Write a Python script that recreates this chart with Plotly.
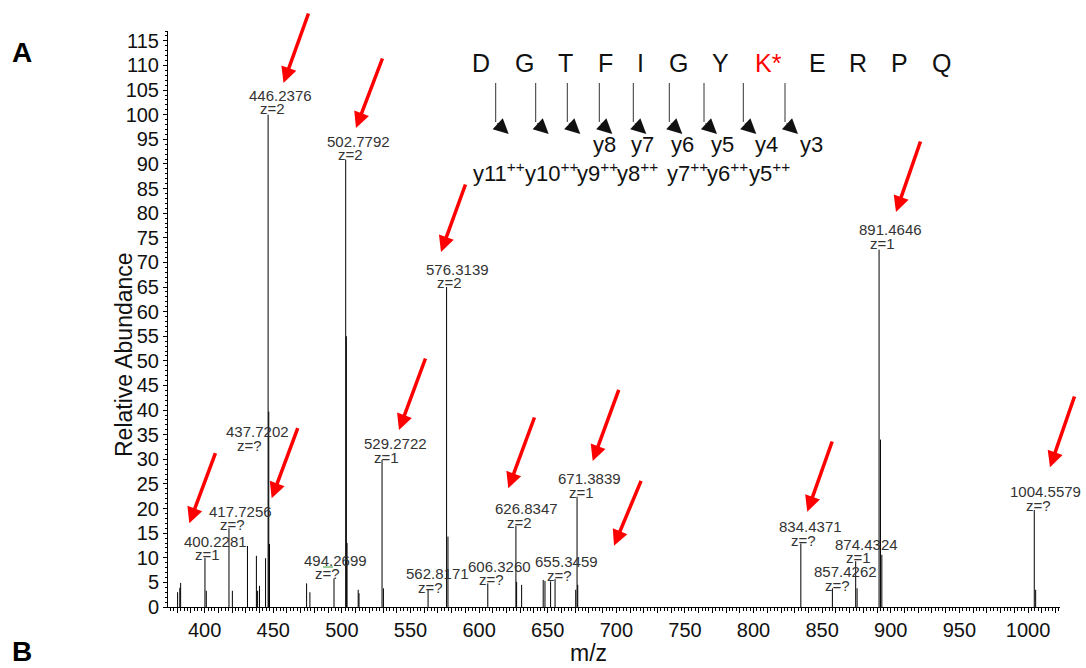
import plotly.graph_objects as go

# ---------------- data ----------------
peak_mz = [380.3, 381.9, 382.5, 400.23, 401.2, 417.73, 420.2, 431.2, 437.72, 438.6,
           440.0, 444.4, 446.24, 446.74, 447.24, 474.3, 476.7, 494.27, 502.78, 503.28,
           503.78, 511.9, 512.5, 529.27, 530.27, 562.82, 576.31, 577.31, 606.33, 626.83,
           627.33, 631.0, 646.7, 648.0, 652.1, 655.35, 670.4, 671.38, 671.88, 834.44,
           857.43, 874.43, 875.43, 891.46, 892.47, 893.47, 1004.56, 1005.56]
peak_int = [3.0, 3.9, 4.9, 10.0, 3.3, 16.0, 3.3, 12.4, 10.4, 3.3,
            4.3, 9.9, 100, 39.7, 12.8, 4.8, 3.0, 5.8, 90.9, 55,
            13, 3.5, 2.8, 29.9, 3.8, 3.5, 65, 14.3, 4.8, 16.5,
            5.1, 4.5, 5.5, 5.3, 5.2, 5.7, 3.5, 22.4, 4.5, 12.9,
            3.8, 9.3, 3.8, 72.6, 34, 10.6, 19.7, 3.5]

label_text = ["400.2281", "417.7256", "437.7202", "446.2376", "494.2699", "502.7792",
              "529.2722", "562.8171", "576.3139", "606.3260", "626.8347", "655.3459",
              "671.3839", "834.4371", "857.4262", "874.4324", "891.4646", "1004.5579"]
label_charge = ["z=1", "z=?", "z=?", "z=2", "z=?", "z=2",
                "z=1", "z=?", "z=2", "z=?", "z=2", "z=?",
                "z=1", "z=?", "z=?", "z=1", "z=1", "z=?"]
# layout of labels (height of label in abundance units, pixel shifts)
label_y = [13.4, 19.5, 35.6, 104.0, 9.5, 94.6, 33.2, 6.8, 68.6, 8.3, 20.0, 9.2,
           26.1, 16.3, 7.2, 12.7, 76.6, 23.4]
label_dx = [11, 11.5, 1, 12, 1, 12.5, 13, 9, 11, 12, 11, 11, 12, 10, 13, 11, 11, 11]
charge_dx = [2.5, 3.7, -6.7, 4, -7, 5, 4.5, 2, 3, 4, 4, 4, 4, 3, 5, 3, 3, 4]

sequence = ["D", "G", "T", "F", "I", "G", "Y", "K*", "E", "R", "P", "Q"]
ions_y = ["y8", "y7", "y6", "y5", "y4", "y3"]
ions_y2 = ["y11", "y10", "y9", "y8", "y7", "y6", "y5"]

x_ticks = list(range(380, 1021, 10))
x_ticktext = [str(v) if v % 50 == 0 else "" for v in x_ticks]

# ---------------- geometry helpers ----------------
W, H = 1086, 668
L, R, T, B = 168, 26, 31, 61
PW, PH = W - L - R, H - T - B


def px(x):
    return (x - L) / PW


def py(y):
    return (H - B - y) / PH


FONT = "Liberation Sans, Arial, sans-serif"

# ---------------- sticks ----------------
xs, ys = [], []
for m, h in zip(peak_mz, peak_int):
    xs += [m, m, None]
    ys += [0, h, None]

fig = go.Figure()
fig.add_trace(go.Scatter(x=xs, y=ys, mode="lines",
                         line=dict(color="black", width=1), hoverinfo="skip",
                         showlegend=False))

ann = []
# peak labels
for t, z, yv, dx, zdx in zip(label_text, label_charge, label_y, label_dx, charge_dx):
    m = float(t)
    ann.append(dict(x=m, y=yv, xref="x", yref="y", text=t, showarrow=False,
                    xanchor="center", yanchor="middle", xshift=dx,
                    font=dict(size=15, color="#333333", family=FONT)))
    ann.append(dict(x=m, y=yv, xref="x", yref="y", text=z, showarrow=False,
                    xanchor="center", yanchor="middle", xshift=zdx, yshift=-13.5,
                    font=dict(size=15, color="#333333", family=FONT)))


def txt(x, y, s, size, color="#111111", xanchor="center", **kw):
    d = dict(x=px(x), y=py(y), xref="paper", yref="paper", text=s, showarrow=False,
             xanchor=xanchor, yanchor="middle",
             font=dict(size=size, family=FONT, color=color))
    d.update(kw)
    return d


# sequence letters
seq_x = [480.5, 524, 565.7, 605.7, 640.3, 678.3, 720.7, 768.3, 817.3, 858.3, 899, 941.7]
for s, x in zip(sequence, seq_x):
    ann.append(txt(x, 63.3, s, 25, "#ff0000" if "*" in s else "#111111"))

# fragmentation arrows
arrow_x = [495.7, 535.7, 567.3, 599.3, 633.3, 669.3, 704, 743.3, 785]
shapes = []
for x in arrow_x:
    shapes.append(dict(type="line", xref="paper", yref="paper",
                       x0=px(x), x1=px(x), y0=py(83), y1=py(122),
                       line=dict(color="#333333", width=1)))
    ann.append(dict(x=px(x + 13), y=py(134), xref="paper", yref="paper", text="",
                    showarrow=True, ax=-13, ay=-12, arrowhead=2, arrowsize=3.0,
                    arrowwidth=1, arrowcolor="#111111"))

ion1_x = [604, 642.5, 682, 722, 766.7, 811.3]
for s, x in zip(ions_y, ion1_x):
    ann.append(txt(x, 145, s, 22))

ion2_x = [470.7, 523, 575, 615, 665, 705, 746.7]
for s, x in zip(ions_y2, ion2_x):
    ann.append(txt(x, 171.7, s + "<sup>++</sup>", 22, xanchor="left"))

# red arrows (head, tail) in pixels
red_arrows = [((283.5, 83), (309, 12)), ((356, 128), (383, 57)), ((441, 252), (466, 183)),
              ((399, 430), (426, 357)), ((271.7, 498.3), (298.3, 426.7)),
              ((189.3, 523.3), (216, 451.7)), ((508.3, 488.3), (535, 416)),
              ((592.7, 461), (619.3, 388.3)), ((614, 545.7), (641.7, 479.3)),
              ((807.3, 511.7), (832.7, 440)), ((896, 212), (921, 140)),
              ((1050, 467.3), (1075, 395))]
for (hx, hy), (tx, ty) in red_arrows:
    ann.append(dict(x=px(hx), y=py(hy), xref="paper", yref="paper", text="",
                    showarrow=True, ax=tx - hx, ay=ty - hy, arrowhead=2,
                    arrowsize=0.9, arrowwidth=3.5, arrowcolor="#ff0000"))

# small green artifact
shapes.append(dict(type="line", xref="paper", yref="paper", x0=px(323), x1=px(333),
                   y0=py(567), y1=py(567), line=dict(color="#3a9a3a", width=1)))

# axis titles and panel letters
ann.append(txt(124, 355, "Relative Abundance", 23, textangle=-90))
ann.append(txt(588, 653, "m/z", 23))
ann.append(txt(22, 52, "<b>A</b>", 28, "black"))
ann.append(txt(22, 651, "<b>B</b>", 28, "black"))

fig.update_layout(
    width=W, height=H,
    margin=dict(l=L, r=R, t=T, b=B, autoexpand=False),
    paper_bgcolor="white", plot_bgcolor="white",
    annotations=ann, shapes=shapes,
    showlegend=False,
    xaxis=dict(range=[373.3, 1023.3], tickmode="array", tickvals=x_ticks,
               ticktext=x_ticktext, ticks="outside", ticklen=5, tickcolor="black",
               tickwidth=1, showline=True, linecolor="black", linewidth=1,
               showgrid=False, zeroline=False, automargin=False,
               tickfont=dict(size=20, family=FONT, color="#111111"),
               minor=dict(tick0=0, dtick=2.5, ticks="outside", ticklen=2.5,
                          tickcolor="black", showgrid=False)),
    yaxis=dict(range=[0, 117], tick0=0, dtick=5, ticks="outside", ticklen=4,
               tickcolor="black", showline=True, linecolor="black", linewidth=1,
               showgrid=False, zeroline=False, automargin=False,
               tickfont=dict(size=20, family=FONT, color="#111111"),
               minor=dict(dtick=1, ticks="outside", ticklen=2, tickcolor="black",
                          showgrid=False)),
)

fig.write_html("out.html", config={"displayModeBar": False},
               post_script="document.body.style.margin='0';document.body.style.padding='0';")
